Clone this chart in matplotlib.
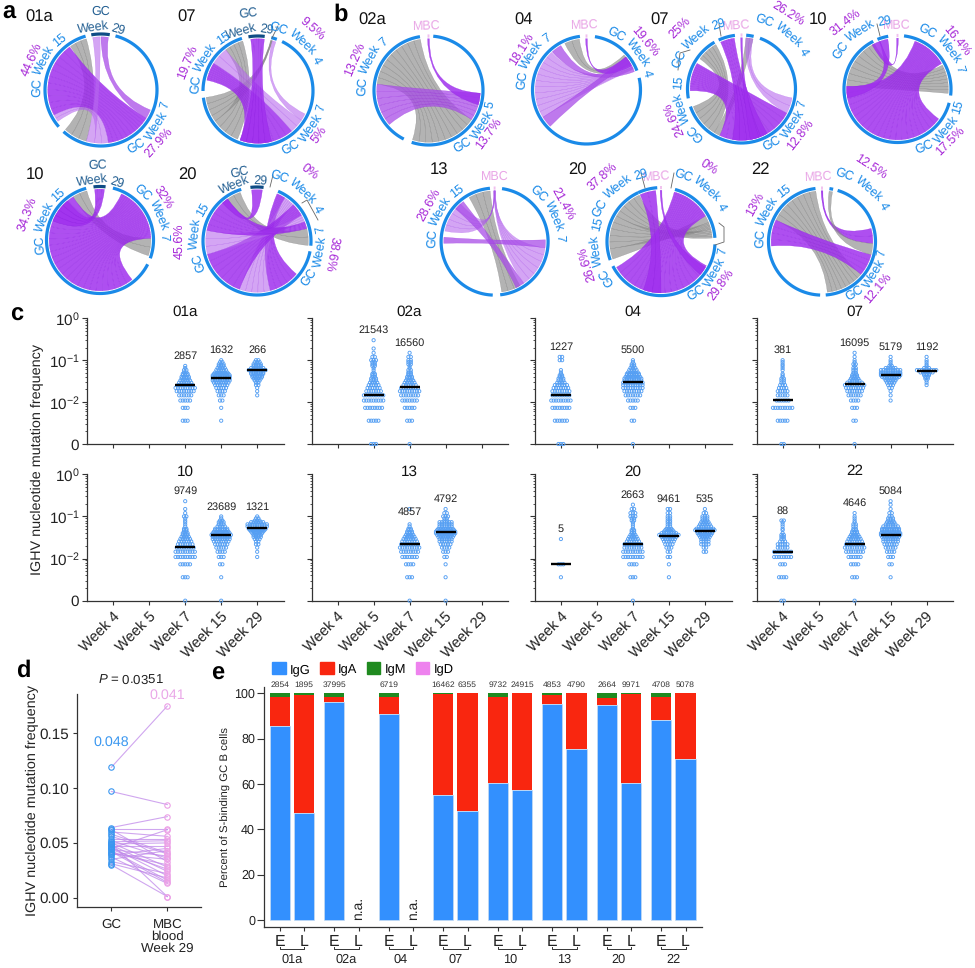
import numpy as np
import matplotlib
matplotlib.use('Agg')
import matplotlib.pyplot as plt
from matplotlib.path import Path
from matplotlib.patches import PathPatch, Patch
from matplotlib.textpath import TextPath
from matplotlib.font_manager import FontProperties

plt.rcParams['font.family'] = ['Liberation Sans', 'DejaVu Sans']
plt.rcParams['mathtext.fontset'] = 'custom'
plt.rcParams['mathtext.rm'] = 'Liberation Sans'
plt.rcParams['mathtext.it'] = 'Liberation Sans:italic'
plt.rcParams['text.hinting'] = 'no_hinting'

W, H = 975, 968
BLUE = '#1a8ae8'
NAVY = '#0f4c85'
NAVY_TXT = '#235f92'
PINK = '#e9a6e6'
MBC_C = '#f0c0ee'
PCT = '#a72ad8'
LEADER = '#666666'

# ---- panels a, b: chord diagrams, angles in degrees clockwise from top
sec_a01 = [(-10, 9, NAVY), (15, 222, BLUE), (229, 344, BLUE)]
rib_a01 = [(325, 344, 196, 222, 'g'), (285, 324, 122, 140, 'p'), (242, 285, 140, 172, 'p'),
           (234, 242, 172, 187, 'l'), (-9, -1, 187, 196, 'l'), (0, 8, 112, 122, 'm')]
lab_a01 = [('GC', 0, 78, NAVY_TXT), ('Week 29', 0, 63, NAVY_TXT), ('GC Week 7', 128, 66, BLUE),
           ('27.9%', 132, 78, PCT), ('GC Week 15', 295, 64, BLUE), ('44.6%', 294, 76, PCT)]
lead_a01 = []

sec_a07 = [(-10, 7, NAVY), (14, 20, BLUE), (26, 263, BLUE), (270, 343, BLUE)]
rib_a07 = [(203, 235, 322, 343, 'g'), (235, 263, 14, 16, 'g'), (282, 302, 140, 200, 'p'),
           (302, 322, 124, 140, 'l'), (16, 20, 116, 124, 'l'), (-8, 7, 165, 200, 'p')]
lab_a07 = [('GC', 353, 78, NAVY_TXT), ('Week 29', 352, 62, NAVY_TXT), ('GC Week 4', 38, 66, BLUE),
           ('9.5%', 41, 83, PCT), ('GC Week 15', 300, 62, BLUE), ('19.7%', 292, 76, PCT),
           ('GC Week 7', 130, 65, BLUE), ('5%', 126, 75, PCT)]
lead_a07 = [[(278, 26), (272, 38)]]

sec_a10 = [(-7, 6, NAVY), (14, 110, BLUE), (117, 345, BLUE)]
rib_a10 = [(328, 345, 88, 108, 'g'), (141, 250, 55, 88, 'p'), (250, 328, 25, 55, 'p'),
           (-6, 5, 292, 320, 'p')]
lab_a10 = [('GC', 358, 75, NAVY_TXT), ('Week 29', 0, 60, NAVY_TXT), ('GC Week 7', 62, 64, BLUE),
           ('32%', 56, 76, PCT), ('GC Week 15', 290, 60, BLUE), ('34.3%', 290, 77, PCT)]
lead_a10 = []

sec_a20 = [(-7, 7, NAVY), (23, 95, BLUE), (101, 343, BLUE)]
rib_a20 = [(325, 341, 76, 95, 'g'), (130, 165, 23, 33, 'p'), (165, 200, 33, 45, 'l'),
           (200, 255, 45, 60, 'p'), (255, 282, 60, 68, 'l'), (282, 325, 68, 76, 'p'),
           (-6, 6, 318, 325, 'p')]
lab_a20 = [('GC', 346, 71, NAVY_TXT), ('Week 29', 346, 60, NAVY_TXT), ('GC Week 4', 38, 68, BLUE),
           ('0%', 37, 87, PCT), ('GC Week 7', 105, 64, BLUE), ('38.6%', 100, 76, PCT),
           ('GC Week 15', 274, 62, BLUE), ('45.6%', 270, 78, PCT)]
lead_a20 = [[(273, 175), (270, 187)], [(302, 203), (307, 200), (318, 220)]]

sec_b02a = [(-1, 1, MBC_C), (5, 198, BLUE), (207, 351, BLUE)]
rib_b02a = [(277, 351, 124, 198, 'g'), (229, 277, 93, 124, 'm'), (-1, 1, 93, 106, 'p')]
lab_b02a = [('MBC', 358, 65, PINK), ('GC Week 7', 293, 66, BLUE), ('13.2%', 293, 80, PCT),
            ('GC Week 5', 128, 64, BLUE), ('13.7%', 126, 74, PCT)]
lead_b02a = []

sec_b04 = [(-1, 1, MBC_C), (9, 69, BLUE), (77, 353, BLUE)]
rib_b04 = [(335, 352, 47, 60, 'g'), (238, 317, 58, 66, 'l'), (318, 330, 63, 69, 'm'),
           (225, 238, 50, 58, 'm'), (-1, 1, 50, 62, 'p')]
lab_b04 = [('MBC', 358, 65, PINK), ('GC Week 4', 49, 63, BLUE), ('19.6%', 50, 76, PCT),
           ('GC Week 7', 298, 65, BLUE), ('18.1%', 302, 77, PCT)]
lead_b04 = []

sec_b07 = [(-25, -7, BLUE), (-1, 1, MBC_C), (5, 13, BLUE), (20, 251, BLUE), (260, 330, BLUE)]
rib_b07 = [(212, 250, 306, 330, 'g'), (205, 212, 5, 13, 'g'), (118, 205, 268, 300, 'p'),
           (5, 13, 100, 118, 'l'), (-24, -8, 150, 190, 'p'), (-1, 1, 160, 170, 'p')]
lab_b07 = [('MBC', 356, 64, PINK), ('GC Week 29', 317, 69, BLUE), ('25%', 315, 87, PCT),
           ('GC Week 4', 37, 72, BLUE), ('26.2%', 32, 89, PCT), ('GC Week 7', 130, 62, BLUE),
           ('12.8%', 128, 74, PCT), ('GC Week 15', 250, 63, BLUE), ('24.6%', 246, 74, PCT)]
lead_b07 = [[(719, 24), (721, 36)], [(678, 70), (680, 53), (690, 50)]]

sec_b10 = [(-22, -10, BLUE), (-1, 1, MBC_C), (7, 97, BLUE), (105, 333, BLUE)]
rib_b10 = [(273, 333, 62, 95, 'g'), (126, 273, 20, 60, 'p'), (-21, -11, 260, 273, 'p'),
           (-1, 1, 330, 340, 'p')]
lab_b10 = [('MBC', 359, 64, PINK), ('GC Week 29', 326, 69, BLUE), ('31.4%', 322, 85, PCT),
           ('GC Week 7', 47, 65, BLUE), ('16.4%', 51, 77, PCT), ('GC Week 15', 132, 64, BLUE),
           ('17.5%', 135, 74, PCT)]
lead_b10 = [[(877, 24), (880, 36)]]

sec_b13 = [(-1, 1, MBC_C), (8, 174, BLUE), (182, 355, BLUE)]
rib_b13 = [(330, 355, 150, 172, 'g'), (282, 318, -1, 1, 'l'), (-1, 1, 97, 145, 'l'),
           (310, 322, 145, 155, 'm'), (268, 275, 88, 97, 'm')]
lab_b13 = [('MBC', 0, 65, PINK), ('GC Week 7', 62, 65, BLUE), ('21.4%', 61, 78, PCT),
           ('GC Week 15', 297, 62, BLUE), ('28.6%', 299, 75, PCT)]
lead_b13 = []

sec_b20 = [(-25, -4, BLUE), (-1, 1, MBC_C), (15, 86, BLUE), (93, 243, BLUE), (250, 335, BLUE)]
rib_b20 = [(300, 335, 76, 86, 'g'), (262, 300, 68, 76, 'g'), (250, 262, 60, 68, 'g'),
           (118, 240, 15, 60, 'p'), (-24, -6, 180, 200, 'p'), (-1, 1, 120, 130, 'p')]
lab_b20 = [('MBC', 356, 65, PINK), ('GC Week 29', 320, 70, BLUE), ('37.8%', 318, 88, PCT),
           ('GC Week 4', 37, 70, BLUE), ('0%', 33, 89, PCT), ('GC Week 7', 125, 62, BLUE),
           ('29.8%', 126, 74, PCT), ('GC Week 15', 260, 65, BLUE), ('26.6%', 253, 78, PCT)]
lead_b20 = [[(641, 173), (645, 188)], [(674, 173), (671, 188)],
            [(719, 223), (724, 227), (724, 242), (715, 245)]]

sec_b22 = [(-1, 1, MBC_C), (8, 12, BLUE), (17, 176, BLUE), (182, 353, BLUE)]
rib_b22 = [(295, 353, 130, 174, 'g'), (265, 295, 105, 130, 'p'), (-1, 1, 75, 92, 'p'),
           (8, 12, 92, 105, 'g')]
lab_b22 = [('MBC', 357, 65, PINK), ('GC Week 4', 37, 71, BLUE), ('12.5%', 33, 89, PCT),
           ('GC Week 15', 297, 62, BLUE), ('13%', 299, 76, PCT), ('GC Week 7', 127, 61, BLUE),
           ('12.1%', 130, 73, PCT)]
lead_b22 = []

# ---- panel c: dots per mutation level for every time point
levels = [0, .0036, .0073, .0109, .0145, .0182, .0218, .0255, .0291, .0327, .0364, .04, .0437,
          .0473, .051, .058, .065, .073, .08, .09, .1, .12, .15, .19, .23, .3]
donors = ['01a', '02a', '04', '07', '10', '13', '20', '22']
week_names = ['Week 4', 'Week 5', 'Week 7', 'Week 15', 'Week 29']

weeks_01a = [2, 3, 4]
n_01a = [2857, 1632, 266]
med_01a = [.026, .037, .059]
dots_01a = [[0, 3, 3, 5, 6, 8, 9, 7, 6, 5, 4, 4, 3, 3, 2, 2, 1, 1],
            [0, 1, 1, 2, 3, 4, 5, 6, 7, 8, 8, 8, 8, 7, 6, 5, 4, 3, 3, 2, 1],
            [0, 0, 0, 0, 1, 1, 1, 2, 2, 3, 4, 5, 5, 6, 6, 8, 6, 4, 4, 3, 2]]
weeks_02a = [1, 2]
n_02a = [21543, 16560]
med_02a = [.015, .0225]
dots_02a = [[3, 5, 8, 9, 9, 7, 6, 5, 4, 3, 3, 2, 2, 2, 1, 1, 1, 2, 2, 2, 3, 2, 1, 1, 0, 1],
            [1, 3, 5, 7, 8, 9, 8, 6, 5, 4, 3, 3, 2, 2, 2, 2, 1, 1, 2, 2, 2, 2, 1]]
weeks_04 = [0, 2]
n_04 = [1227, 5500]
med_04 = [.015, .031]
dots_04 = [[3, 6, 8, 9, 8, 8, 7, 6, 4, 3, 3, 2, 2, 1, 1, 1, 0, 0, 0, 0, 2, 2],
           [1, 2, 3, 5, 7, 8, 9, 9, 9, 8, 8, 7, 6, 6, 5, 4, 3, 2, 2, 1, 1]]
weeks_07 = [0, 2, 3, 4]
n_07 = [381, 16095, 5179, 1192]
med_07 = [.011, .0265, .0453, .0555]
dots_07 = [[2, 5, 9, 6, 5, 5, 4, 3, 2, 2, 2, 1, 1, 1, 0, 1, 1, 1, 1, 1, 1],
           [1, 2, 3, 4, 6, 7, 8, 9, 7, 5, 4, 3, 3, 2, 2, 2, 2, 1, 2, 1, 1, 1, 1],
           [0, 0, 0, 1, 1, 1, 2, 3, 4, 5, 6, 8, 9, 9, 9, 9, 5, 2, 1, 1, 1, 1],
           [0, 0, 0, 0, 0, 0, 0, 1, 1, 1, 2, 2, 3, 3, 6, 9, 3, 1, 1, 1, 1, 1]]
weeks_10 = [2, 3, 4]
n_10 = [9749, 23689, 1321]
med_10 = [.0187, .037, .0525]
dots_10 = [[1, 3, 5, 9, 9, 8, 7, 6, 5, 4, 3, 3, 2, 2, 2, 1, 1, 1, 1, 1, 2, 1, 1, 0, 1],
           [1, 1, 2, 3, 4, 5, 6, 7, 8, 8, 9, 8, 7, 6, 6, 4, 3, 3, 2, 1, 1],
           [0, 0, 0, 1, 1, 1, 2, 2, 3, 4, 4, 5, 6, 7, 8, 9, 9, 6, 3, 2, 1]]
weeks_13 = [2, 3]
n_13 = [4857, 4792]
med_13 = [.022, .042]
dots_13 = [[1, 3, 4, 7, 8, 9, 8, 7, 6, 5, 4, 3, 3, 2, 2, 1, 1, 0, 0, 0, 0, 0, 1],
           [1, 1, 1, 2, 3, 4, 5, 6, 6, 7, 8, 9, 9, 8, 7, 6, 6, 6, 2, 2, 3, 2, 1]]
weeks_20 = [0, 2, 3, 4]
n_20 = [5, 2663, 9461, 535]
med_20 = [.0074, .022, .0337, .0445]
dots_20 = [[0, 1, 3, 0, 0, 0, 0, 0, 1],
           [1, 3, 4, 9, 9, 8, 8, 6, 5, 4, 3, 2, 2, 2, 1, 1, 1, 1, 2, 2, 3, 3, 2, 1],
           [0, 1, 1, 2, 2, 3, 4, 5, 6, 7, 9, 7, 5, 4, 3, 2, 2, 2, 2, 2, 2, 2, 2],
           [0, 0, 0, 0, 2, 2, 4, 4, 4, 5, 6, 7, 7, 9, 8, 6, 5, 4, 3, 3, 3, 2, 1]]
weeks_22 = [0, 2, 3]
n_22 = [88, 4646, 5084]
med_22 = [.0147, .022, .037]
dots_22 = [[2, 4, 3, 8, 8, 5, 5, 3, 2, 2, 2, 1, 0, 1, 1, 1, 1, 1, 2],
           [1, 3, 4, 6, 8, 9, 8, 7, 6, 5, 4, 3, 3, 2, 2, 2, 2, 1, 1, 1, 1, 1],
           [0, 1, 2, 3, 4, 5, 6, 7, 7, 8, 9, 9, 8, 8, 8, 7, 5, 4, 3, 3, 2, 2, 1, 1, 1]]

# ---- panel d: paired medians
gc_vals = [.119, .097, .064, .063, .062, .060, .058, .056, .054, .052, .051, .050, .049, .048, .047,
           .046, .045, .044, .043, .042, .041, .040, .039, .037, .035, .033, .031, .030, .049, .044]
mbc_vals = [.175, .085, .074, .063, .033, .056, .041, .040, .054, .036, .052, .028, .050, .024, .047,
            .020, .062, .038, .016, .014, .030, .035, .045, .013, .043, .022, .018, .001, .001, .026]

# ---- panel e: isotype percentages, NaN = not available
iso_groups = ['01a', '02a', '04', '07', '10', '13', '20', '22']
igg_e = [85.4, 96.2, 90.9, 55.0, 60.6, 95.4, 94.9, 88.2]
iga_e = [12.8, 2.0, 7.3, 44.7, 37.6, 4.0, 3.2, 10.2]
igm_e = [1.8, 1.8, 1.8, 0.3, 1.8, 0.6, 1.9, 1.6]
igg_l = [47.0, np.nan, np.nan, 48.0, 57.4, 75.4, 60.4, 71.0]
iga_l = [52.1, np.nan, np.nan, 52.0, 42.6, 24.6, 39.5, 29.0]
igm_l = [0.9, np.nan, np.nan, 0.0, 0.0, 0.0, 0.1, 0.0]
count_e = [2854, 37995, 6719, 16462, 9732, 4853, 2664, 4708]
count_l = [1895, None, None, 6355, 24915, 4790, 9971, 5078]

fig = plt.figure(figsize=(W / 100, H / 100), dpi=100)


def px_axes(left, top, right, bottom, **kw):
    return fig.add_axes([left / W, 1 - bottom / H, (right - left) / W, (bottom - top) / H], **kw)


# overlay in pixel coordinates for the chord diagrams
ov = px_axes(0, 0, W, H)
ov.set_xlim(0, W)
ov.set_ylim(H, 0)
ov.axis('off')

RIB = {'p': ('#a030ee', 0.85, '#9020e4'), 'l': ('#b86aee', 0.6, '#a850ea'),
       'm': ('#a84ce8', 0.75, '#9a30e0'), 'g': ('#8c8c8c', 0.66, '#707070')}
FP = FontProperties(family='Liberation Sans')


def polar(cx, cy, r, ang):
    t = np.radians(ang)
    return cx + r * np.sin(t), cy - r * np.cos(t)


def ribbon(cx, cy, r, a1, a2, b1, b2, kind):
    col, alpha, edge = RIB[kind]
    strands = max(1, int(max(abs(a2 - a1), abs(b2 - b1)) / 7))
    for i in range(strands):
        s1 = a1 + (a2 - a1) * i / strands
        s2 = a1 + (a2 - a1) * (i + 1) / strands
        e1 = b1 + (b2 - b1) * (strands - i - 1) / strands
        e2 = b1 + (b2 - b1) * (strands - i) / strands
        v, c = [polar(cx, cy, r, s1)], [Path.MOVETO]
        for ang in np.linspace(s1, s2, 8)[1:]:
            v.append(polar(cx, cy, r, ang))
            c.append(Path.LINETO)
        v += [(cx, cy), polar(cx, cy, r, e1)]
        c += [Path.CURVE3, Path.CURVE3]
        for ang in np.linspace(e1, e2, 8)[1:]:
            v.append(polar(cx, cy, r, ang))
            c.append(Path.LINETO)
        v += [(cx, cy), polar(cx, cy, r, s1)]
        c += [Path.CURVE3, Path.CURVE3]
        ov.add_patch(PathPatch(Path(v, c), facecolor=col, alpha=alpha, edgecolor=edge, lw=0.2, zorder=2))


def curved_label(cx, cy, text, ang, r, color, size=9.0):
    # word by word along the circle, turned over on the lower right
    fs = size * 100 / 72
    flip = 100 < (ang % 360) < 205
    words = text.split(' ')
    widths = [TextPath((0, 0), w, size=fs, prop=FP).get_extents().width for w in words]
    gap = fs * 0.3
    total = sum(widths) + gap * (len(words) - 1)
    step = -1 if flip else 1
    pos = -total / 2
    for w, wd in zip(words, widths):
        a = ang + step * np.degrees((pos + wd / 2) / r)
        x, y = polar(cx, cy, r, a)
        rot = 180 - a if flip else -a
        ov.text(x, y, w, color=color, fontsize=size, rotation=rot, rotation_mode='anchor',
                ha='center', va='center', zorder=5)
        pos += wd + gap


def chord(cx, cy, r, secs, ribs, labs, leads):
    for a1, a2, b1, b2, kind in ribs:
        ribbon(cx, cy, r * 0.95, a1, a2, b1, b2, kind)
    for s, e, col in secs:
        th = np.linspace(s, e, 80)
        xs, ys = polar(cx, cy, r, th)
        ov.plot(xs, ys, color=col, lw=2.3, solid_capstyle='butt', zorder=3)
    for text, ang, rad, col in labs:
        curved_label(cx, cy, text, ang, rad, col)
    for pts in leads:
        ov.plot([p[0] for p in pts], [p[1] for p in pts], color=LEADER, lw=0.6, zorder=4)


chord(101, 90, 56, sec_a01, rib_a01, lab_a01, lead_a01)
chord(258, 91, 55, sec_a07, rib_a07, lab_a07, lead_a07)
chord(100, 240, 53.5, sec_a10, rib_a10, lab_a10, lead_a10)
chord(257, 241, 54, sec_a20, rib_a20, lab_a20, lead_a20)
chord(428.5, 90.5, 54.5, sec_b02a, rib_b02a, lab_b02a, lead_b02a)
chord(586.5, 90, 54, sec_b04, rib_b04, lab_b04, lead_b04)
chord(741.5, 89, 54, sec_b07, rib_b07, lab_b07, lead_b07)
chord(897.5, 89, 53.5, sec_b10, rib_b10, lab_b10, lead_b10)
chord(494.6, 241.6, 53.5, sec_b13, rib_b13, lab_b13, lead_b13)
chord(661, 241.6, 54, sec_b20, rib_b20, lab_b20, lead_b20)
chord(822, 241.6, 53.5, sec_b22, rib_b22, lab_b22, lead_b22)

for txt, x, y in [('01a', 25, 17), ('07', 177, 17), ('10', 26, 175), ('20', 178, 175),
                  ('02a', 358, 20), ('04', 514, 20), ('07', 650, 20), ('10', 809, 20),
                  ('13', 430, 170), ('20', 568, 170), ('22', 751, 170)]:
    ov.text(x, y, txt, fontsize=12, ha='left', va='center', color='#111111')
for txt, x, y in [('a', 2, 13), ('b', 333, 15), ('c', 10, 315), ('d', 16, 671), ('e', 211, 674)]:
    ov.text(x, y, txt, fontsize=17, fontweight='bold', ha='left', va='center', color='black')

# ---- panel c
col_left = [87.3, 311.7, 535, 756.7]
row_top = [318.3, 474.3]
row_bot = [444, 600.7]
title_off = [4.5, 2]
weeks_all = [weeks_01a, weeks_02a, weeks_04, weeks_07, weeks_10, weeks_13, weeks_20, weeks_22]
n_all = [n_01a, n_02a, n_04, n_07, n_10, n_13, n_20, n_22]
med_all = [med_01a, med_02a, med_04, med_07, med_10, med_13, med_20, med_22]
dots_all = [dots_01a, dots_02a, dots_04, dots_07, dots_10, dots_13, dots_20, dots_22]
ZERO = 1e-3  # value 0 sits on the axis floor

for k, name in enumerate(donors):
    row, col = k // 4, k % 4
    left = col_left[col]
    ax = px_axes(left, row_top[row], left + 196.7, row_bot[row])
    ax.set_yscale('log')
    ax.set_ylim(ZERO, 1)
    ax.set_xlim(-0.72, 4.745)
    for s in ['top', 'right']:
        ax.spines[s].set_visible(False)
    for s in ['left', 'bottom']:
        ax.spines[s].set_linewidth(0.9)
        ax.spines[s].set_color('#333333')
    ax.set_yticks([1e-3, 1e-2, 1e-1, 1])
    ax.yaxis.set_minor_locator(matplotlib.ticker.LogLocator(base=10, subs=np.arange(2, 10), numticks=10))
    ax.yaxis.set_minor_formatter(matplotlib.ticker.NullFormatter())
    ax.tick_params(axis='y', which='major', length=3.8, width=0.8, color='#333333', pad=2)
    ax.tick_params(axis='y', which='minor', length=1.8, width=0.6, color='#333333')
    ax.set_xticks(range(5))
    ax.tick_params(axis='x', length=3.2, width=0.8, color='#333333')
    if col == 0:
        ax.set_yticklabels(['0', r'$\mathregular{10^{-2}}$', r'$\mathregular{10^{-1}}$', r'$\mathregular{10^{0}}$'],
                           fontsize=11, color='#222222')
    else:
        ax.set_yticklabels([])
    if row == 1:
        ax.set_xticklabels(week_names, rotation=45, ha='right', rotation_mode='anchor', fontsize=10.6,
                           color='#222222')
    else:
        ax.set_xticklabels([])
    ax.annotate(name, (2, 1), xytext=(0, title_off[row]), textcoords='offset points', fontsize=11, ha='center',
                va='center', color='#111111', annotation_clip=False)
    for wk, nn, med, cnt in zip(weeks_all[k], n_all[k], med_all[k], dots_all[k]):
        xs, ys = [], []
        for lev, c in zip(levels, cnt):
            for i in range(c):
                xs.append(wk + (i - (c - 1) / 2) * 0.067)
                ys.append(max(lev, ZERO))
        ax.scatter(xs, ys, s=5.4, facecolors='none', edgecolors='#559ff3', linewidths=0.65, clip_on=False, zorder=3)
        ax.plot([wk - 0.28, wk + 0.28], [med, med], color='black', lw=1.7, solid_capstyle='butt', zorder=4)
        top = max(ys)
        if nn == 4857:
            top = .073
        ax.annotate(str(nn), (wk, top), xytext=(0, 7), textcoords='offset points', ha='center', va='center',
                    fontsize=7.8, color='#222222')

fig.text(37 / W, 1 - 459 / H, 'IGHV nucleotide mutation frequency', rotation=90, ha='center', va='center',
         fontsize=10.4, color='#222222')

# ---- panel d
axd = px_axes(77.3, 694.3, 200.7, 907.3)
axd.set_xlim(-0.607, 1.596)
axd.set_ylim(-0.0088, 0.1857)
for s in ['top', 'right']:
    axd.spines[s].set_visible(False)
for s in ['left', 'bottom']:
    axd.spines[s].set_linewidth(0.9)
    axd.spines[s].set_color('#333333')
for g, m in zip(gc_vals, mbc_vals):
    axd.plot([0, 1], [g, m], color='#c088ea', lw=0.8, alpha=0.75, zorder=2)
axd.plot([0] * len(gc_vals), gc_vals, 'o', ms=3.9, mfc='none', mec='#3a97f0', mew=0.8, zorder=3, clip_on=False)
axd.plot([1] * len(mbc_vals), mbc_vals, 'o', ms=3.9, mfc='none', mec='#ec9fe6', mew=0.8, zorder=3, clip_on=False)
axd.set_yticks([0, .05, .1, .15])
axd.set_yticklabels(['0.00', '0.05', '0.10', '0.15'], fontsize=11, color='#222222')
axd.set_xticks([0, 1])
axd.set_xticklabels(['GC', 'MBC\nblood\nWeek 29'], fontsize=9.6, color='#222222', linespacing=1.0)
axd.get_xticklabels()[1].set_x(1.07)
axd.tick_params(length=3.2, width=0.8, color='#333333')
axd.tick_params(axis='x', pad=5)
axd.tick_params(axis='y', pad=3)
axd.set_ylabel('IGHV nucleotide mutation frequency', fontsize=10.4, color='#222222', labelpad=0)
axd.text(0.35, 0.1985, r'$\mathit{P}$ = 0.0351', fontsize=9.5, ha='center', va='center', color='#222222', clip_on=False)
axd.text(0, 0.142, '0.048', fontsize=10.3, color='#3a97f0', ha='center', va='center')
axd.text(1, 0.185, '0.041', fontsize=10.3, color='#eaa8e8', ha='center', va='center', clip_on=False)

# ---- panel e
axe = px_axes(264, 686.7, 701.7, 926.7)
axe.set_xlim(-0.288, 7.743)
axe.set_ylim(-2.96, 102.9)
for s in ['top', 'right']:
    axe.spines[s].set_visible(False)
for s in ['left', 'bottom']:
    axe.spines[s].set_linewidth(0.9)
    axe.spines[s].set_color('#333333')
x_e = np.arange(8)
x_l = x_e + 0.446
BAR_W = 0.372
BAR = {'IgG': '#3390fe', 'IgA': '#f9260f', 'IgM': '#1f8a1f', 'IgD': '#ee82ee'}
edge = '#c6dcf2'
for xs, gg, aa, mm in [(x_e, igg_e, iga_e, igm_e), (x_l, igg_l, iga_l, igm_l)]:
    gg, aa, mm = np.array(gg), np.array(aa), np.array(mm)
    axe.bar(xs, gg, BAR_W, color=BAR['IgG'], edgecolor=edge, lw=0.5)
    axe.bar(xs, aa, BAR_W, bottom=gg, color=BAR['IgA'], edgecolor='none')
    axe.bar(xs, mm, BAR_W, bottom=gg + aa, color=BAR['IgM'], edgecolor='none')
for xv, c in zip(list(x_e) + list(x_l), count_e + count_l):
    if c is None:
        axe.text(xv, 0, 'n.a.', rotation=90, ha='center', va='bottom', fontsize=10, color='#222222')
    else:
        axe.text(xv, 103.7, str(c), ha='center', va='center', fontsize=6.1, color='#333333', clip_on=False)
axe.set_xticks(list(x_e) + list(x_l))
axe.set_xticklabels(['E'] * 8 + ['L'] * 8, fontsize=11.4, color='#222222')
axe.tick_params(axis='x', length=3.2, width=0.8, color='#333333', pad=2)
axe.set_yticks(range(0, 101, 20))
axe.tick_params(axis='y', length=5, width=0.8, color='#333333', labelsize=9, labelcolor='#222222', pad=1.5)
axe.set_ylabel('Percent of S-binding GC B cells', fontsize=8.2, color='#222222', labelpad=2)
for xa, xb, name in zip(x_e, x_l, iso_groups):
    axe.plot([xa, xa, xb, xb], [-11.8, -13, -13, -11.8], color='#333333', lw=0.7, clip_on=False)
    axe.text((xa + xb) / 2, -17.6, name, fontsize=9.2, ha='center', va='center', color='#222222', clip_on=False)
handles = [Patch(color=BAR[k], label=k) for k in ['IgG', 'IgA', 'IgM', 'IgD']]
fig.legend(handles=handles, ncol=4, frameon=False, fontsize=9.3, loc='center left',
           bbox_to_anchor=(272 / W, 1 - 669 / H), handlelength=1.05, handleheight=1.05, handletextpad=0.35,
           columnspacing=0.72, borderaxespad=0, borderpad=0)

fig.savefig('out.png', dpi=100)
